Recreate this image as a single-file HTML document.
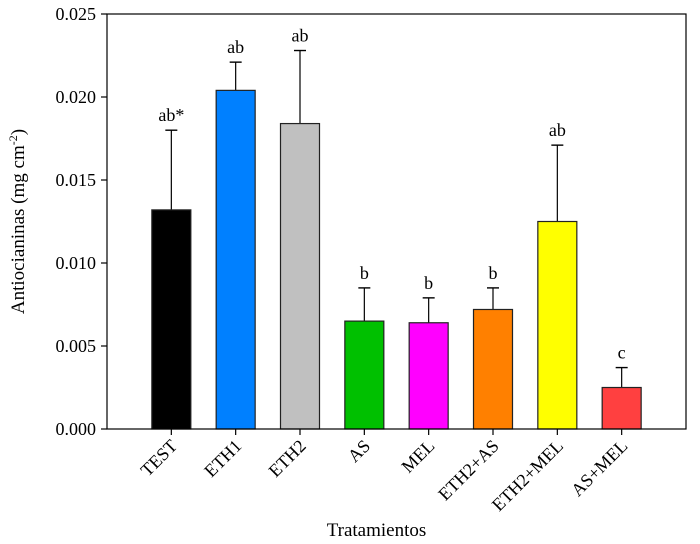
<!DOCTYPE html>
<html><head><meta charset="utf-8"><style>
body{margin:0;background:#fff;}
svg{display:block;font-family:"Liberation Serif",serif;}
</style></head><body>
<svg id="chart" width="700" height="544" viewBox="0 0 700 544"></svg>
<script>
const categories=["TEST","ETH1","ETH2","AS","MEL","ETH2+AS","ETH2+MEL","AS+MEL"];
const values=[0.0132,0.0204,0.0184,0.0065,0.0064,0.0072,0.0125,0.0025];
const errors=[0.0048,0.0017,0.0044,0.0020,0.0015,0.0013,0.0046,0.0012];
const letters=["ab*","ab","ab","b","b","b","ab","c"];
const colors=["#000000","#0080ff","#c0c0c0","#00c000","#ff00ff","#ff8000","#ffff00","#ff4040"];
const yTicks=[0,0.005,0.010,0.015,0.020,0.025];
const yTickLabels=["0.000","0.005","0.010","0.015","0.020","0.025"];

const svg=document.getElementById('chart');
const NS="http://www.w3.org/2000/svg";
const L=107,R=686,T=14,B=429,YMAX=0.025;
const y=v=>B-(v/YMAX)*(B-T);
const band=(R-L)/(categories.length+1);
const x=i=>L+band*(i+1);
function mk(tag,attrs){const e=document.createElementNS(NS,tag);for(const k in attrs)e.setAttribute(k,attrs[k]);svg.appendChild(e);return e;}

yTicks.forEach((t,i)=>{
  const tk=mk('line',{x1:L-6,x2:L,y1:y(t),y2:y(t),stroke:'#000','stroke-width':1.2});
  
  
  const lb=mk('text',{x:L-11,y:y(t)+6,'text-anchor':'end','font-size':18});
  lb.textContent=yTickLabels[i];
  
  
});

categories.forEach((c,i)=>{
  const cx=x(i),w=39;
  const top=values[i]+errors[i];
  const el=mk('line',{x1:cx,x2:cx,y1:y(values[i]),y2:y(top),stroke:'#000','stroke-width':1.2});
  
  
  const cap=mk('line',{x1:cx-6,x2:cx+6,y1:y(top),y2:y(top),stroke:'#000','stroke-width':1.4});
  
  
  const b=mk('rect',{x:cx-w/2,y:y(values[i]),width:w,height:B-y(values[i]),fill:colors[i],stroke:'#222','stroke-width':1.2});
  
  
  const lt=mk('text',{x:cx,y:y(top)-9,'text-anchor':'middle','font-size':18});
  lt.textContent=letters[i];
  
  
  const xt=mk('line',{x1:cx,x2:cx,y1:B,y2:B+6,stroke:'#000','stroke-width':1.2});
  
  
  const xl=mk('text',{x:cx+7,y:B+18,'text-anchor':'end','font-size':18,transform:`rotate(-45 ${cx+7} ${B+18})`});
  xl.textContent=c;
  
  
});

const frame=mk('rect',{x:L,y:T,width:R-L,height:B-T,fill:'none',stroke:'#000','stroke-width':1.2});



const xt=mk('text',{x:(L+R)/2-20,y:536,'text-anchor':'middle','font-size':19});
xt.textContent='Tratamientos';



const yt=mk('text',{x:0,y:0,'text-anchor':'middle','font-size':19,transform:`translate(24 ${(T+B)/2}) rotate(-90)`});
yt.innerHTML='Antiocianinas (mg cm<tspan baseline-shift="super" font-size="12">-2</tspan>)';


</script>
</body></html>
